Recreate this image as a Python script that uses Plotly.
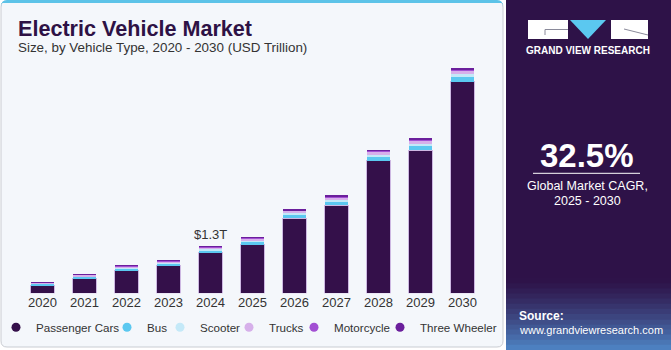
import plotly.graph_objects as go

W, H = 671, 350

years = ["2020", "2021", "2022", "2023", "2024", "2025", "2026", "2027", "2028", "2029", "2030"]
passenger_cars = [0.22, 0.41, 0.63, 0.77, 1.13, 1.355, 2.10, 2.46, 3.70, 3.99, 5.90]
bus = [0.032, 0.042, 0.053, 0.053, 0.064, 0.074, 0.085, 0.095, 0.106, 0.117, 0.13]
scooter = [0.017, 0.022, 0.028, 0.028, 0.034, 0.039, 0.045, 0.050, 0.056, 0.062, 0.075]
trucks = [0.023, 0.030, 0.038, 0.038, 0.045, 0.053, 0.060, 0.068, 0.075, 0.083, 0.09]
motorcycle = [0.008, 0.011, 0.014, 0.014, 0.017, 0.020, 0.022, 0.025, 0.028, 0.031, 0.047]
three_wheeler = [0.004, 0.005, 0.007, 0.007, 0.008, 0.010, 0.011, 0.012, 0.014, 0.015, 0.02]

series_names = ["Passenger Cars", "Bus", "Scooter", "Trucks", "Motorcycle", "Three Wheeler"]
series_values = [passenger_cars, bus, scooter, trucks, motorcycle, three_wheeler]
series_colors = ["#34104a", "#5bc8f0", "#c4e9f8", "#d6b0ea", "#a24fd3", "#6b1f9c"]

label_year = "2024"
label_text = "$1.3T"


def px(x):
    return x / W


def py(y):
    return 1 - y / H


fig = go.Figure()

for i, (name, vals, col) in enumerate(zip(series_names, series_values, series_colors)):
    fig.add_trace(go.Bar(
        x=years, y=vals, name=name, marker_color=col,
        marker_line_color="#cdb8e2" if i == 0 else col,
        marker_line_width=1 if i == 0 else 0,
        showlegend=False, hoverinfo="skip",
    ))

# legend entries (circle symbols) — left edge of each legend box, px
legend_box_x = [-4, 107, 160, 229, 294, 380]
for i, (name, col) in enumerate(zip(series_names, series_colors)):
    lg = "legend" if i == 0 else f"legend{i+1}"
    fig.add_trace(go.Scatter(
        x=[years[0]], y=[None], mode="markers", name=name,
        marker=dict(color=col, size=9, symbol="circle"),
        legend=lg, showlegend=True, hoverinfo="skip",
    ))

totals = [sum(v) for v in zip(*series_values)]
idx = years.index(label_year)

shapes = []
r = 6
x0, x1, y0, y1 = 1, 503, 1, 347
card_path = (f"M {px(x0+r)},{py(y0)} L {px(x1-r)},{py(y0)} Q {px(x1)},{py(y0)} {px(x1)},{py(y0+r)} "
             f"L {px(x1)},{py(y1-r)} Q {px(x1)},{py(y1)} {px(x1-r)},{py(y1)} "
             f"L {px(x0+r)},{py(y1)} Q {px(x0)},{py(y1)} {px(x0)},{py(y1-r)} "
             f"L {px(x0)},{py(y0+r)} Q {px(x0)},{py(y0)} {px(x0+r)},{py(y0)} Z")
shapes.append(dict(type="path", xref="paper", yref="paper", path=card_path,
                   fillcolor="#f4f7fb", line=dict(color="#c9ccd2", width=1), layer="below"))
shapes.append(dict(type="path", xref="paper", yref="paper",
                   path=f"M {px(1)},{py(7)} Q {px(1)},{py(0)} {px(7)},{py(0)} L {px(497)},{py(0)} Q {px(503)},{py(0)} {px(503)},{py(7)} L {px(503)},{py(3)} L {px(1)},{py(3)} Z",
                   fillcolor="#5cc3e8", line=dict(width=0), layer="below"))

# right panel
shapes.append(dict(type="rect", xref="paper", yref="paper", x0=px(506), x1=px(671), y0=py(350), y1=py(0),
                   fillcolor="#2e1248", line=dict(width=0), layer="below"))
c0 = (0x2e, 0x12, 0x48)
c1 = (0x4f, 0x86, 0xc6)
nb = 14
ys, ye = 278, 350
for k in range(nb):
    t = (k + 0.5) / nb
    t2 = t ** 1.3
    c = tuple(int(c0[j] + (c1[j] - c0[j]) * t2) for j in range(3))
    ya = ys + (ye - ys) * k / nb
    yb = ys + (ye - ys) * (k + 1) / nb
    shapes.append(dict(type="rect", xref="paper", yref="paper", x0=px(506), x1=px(671), y0=py(yb + 0.5), y1=py(ya),
                       fillcolor="rgb(%d,%d,%d)" % c, line=dict(width=0), layer="below"))
# logo
shapes.append(dict(type="rect", xref="paper", yref="paper", x0=px(528), x1=px(568), y0=py(39), y1=py(20),
                   fillcolor="white", line=dict(width=0), layer="below"))
shapes.append(dict(type="path", xref="paper", yref="paper",
                   path=f"M {px(570)},{py(20)} L {px(606)},{py(20)} L {px(588)},{py(39)} Z",
                   fillcolor="#5bc8f0", line=dict(width=0), layer="below"))
shapes.append(dict(type="rect", xref="paper", yref="paper", x0=px(611), x1=px(648), y0=py(39), y1=py(20),
                   fillcolor="white", line=dict(width=0), layer="below"))
shapes.append(dict(type="path", xref="paper", yref="paper",
                   path=f"M {px(568)},{py(29.5)} L {px(545)},{py(29.5)} L {px(545)},{py(35)}",
                   line=dict(color="#8a8a9a", width=1), layer="below"))
shapes.append(dict(type="path", xref="paper", yref="paper",
                   path=f"M {px(624)},{py(29)} L {px(648)},{py(35)}",
                   line=dict(color="#8a8a9a", width=1), layer="below"))
shapes.append(dict(type="line", xref="paper", yref="paper", x0=px(533), x1=px(640), y0=py(173.3), y1=py(173.3),
                   line=dict(color="white", width=1)))

FONT = "Liberation Sans, Arial, sans-serif"
annotations = [
    dict(text="<b>Electric Vehicle Market</b>", x=px(16), y=py(29), xref="paper", yref="paper",
         xanchor="left", yanchor="middle", showarrow=False, font=dict(size=21.6, color="#2e1245", family=FONT)),
    dict(text="Size, by Vehicle Type, 2020 - 2030 (USD Trillion)", x=px(16), y=py(48), xref="paper", yref="paper",
         xanchor="left", yanchor="middle", showarrow=False, font=dict(size=13.4, color="#333333", family=FONT)),
    dict(text=label_text, x=idx, y=totals[idx], xref="x", yref="y",
         xanchor="center", yanchor="bottom", yshift=3, showarrow=False,
         font=dict(size=13, color="#333333", family=FONT)),
    dict(text="<b>GRAND VIEW RESEARCH</b>", x=px(588), y=py(51), xref="paper", yref="paper",
         xanchor="center", yanchor="middle", showarrow=False, font=dict(size=10, color="white", family=FONT)),
    dict(text="<b>32.5%</b>", x=px(587), y=py(155), xref="paper", yref="paper",
         xanchor="center", yanchor="middle", showarrow=False, font=dict(size=33, color="white", family=FONT)),
    dict(text="Global Market CAGR,", x=px(587), y=py(186), xref="paper", yref="paper",
         xanchor="center", yanchor="middle", showarrow=False, font=dict(size=12.5, color="white", family=FONT)),
    dict(text="2025 - 2030", x=px(587), y=py(201), xref="paper", yref="paper",
         xanchor="center", yanchor="middle", showarrow=False, font=dict(size=12.5, color="white", family=FONT)),
    dict(text="<b>Source:</b>", x=px(517), y=py(316), xref="paper", yref="paper",
         xanchor="left", yanchor="middle", showarrow=False, font=dict(size=12, color="white", family=FONT)),
    dict(text="www.grandviewresearch.com", x=px(517), y=py(330), xref="paper", yref="paper",
         xanchor="left", yanchor="middle", showarrow=False, font=dict(size=11, color="white", family=FONT)),
]

layout_legends = {}
for i in range(len(series_names)):
    key = "legend" if i == 0 else f"legend{i+1}"
    layout_legends[key] = dict(
        orientation="h", x=px(legend_box_x[i]), xanchor="left",
        y=py(327.3), yanchor="middle", bgcolor="rgba(0,0,0,0)",
        font=dict(size=11.6, color="#333333", family=FONT),
        borderwidth=0,
    )

fig.update_layout(
    width=W, height=H, autosize=False,
    margin=dict(l=0, r=0, t=0, b=0, autoexpand=False),
    paper_bgcolor="white", plot_bgcolor="rgba(0,0,0,0)",
    barmode="stack", bargap=0.45,
    xaxis=dict(type="category", categoryorder="array", categoryarray=years,
               range=[-0.5, len(years) - 0.5],
               domain=[px(21.5), px(483.5)], showgrid=False, showline=False,
               zeroline=False, ticks="", tickfont=dict(size=13, color="#333333", family=FONT),
               fixedrange=True),
    yaxis=dict(visible=False, range=[0, 6.5], domain=[py(293.3), py(293.3) + (6.5 / (1.3 / 46.6)) / H],
               fixedrange=True),
    shapes=shapes, annotations=annotations,
    font=dict(family=FONT),
    **layout_legends,
)

fig.write_html("out.html")
